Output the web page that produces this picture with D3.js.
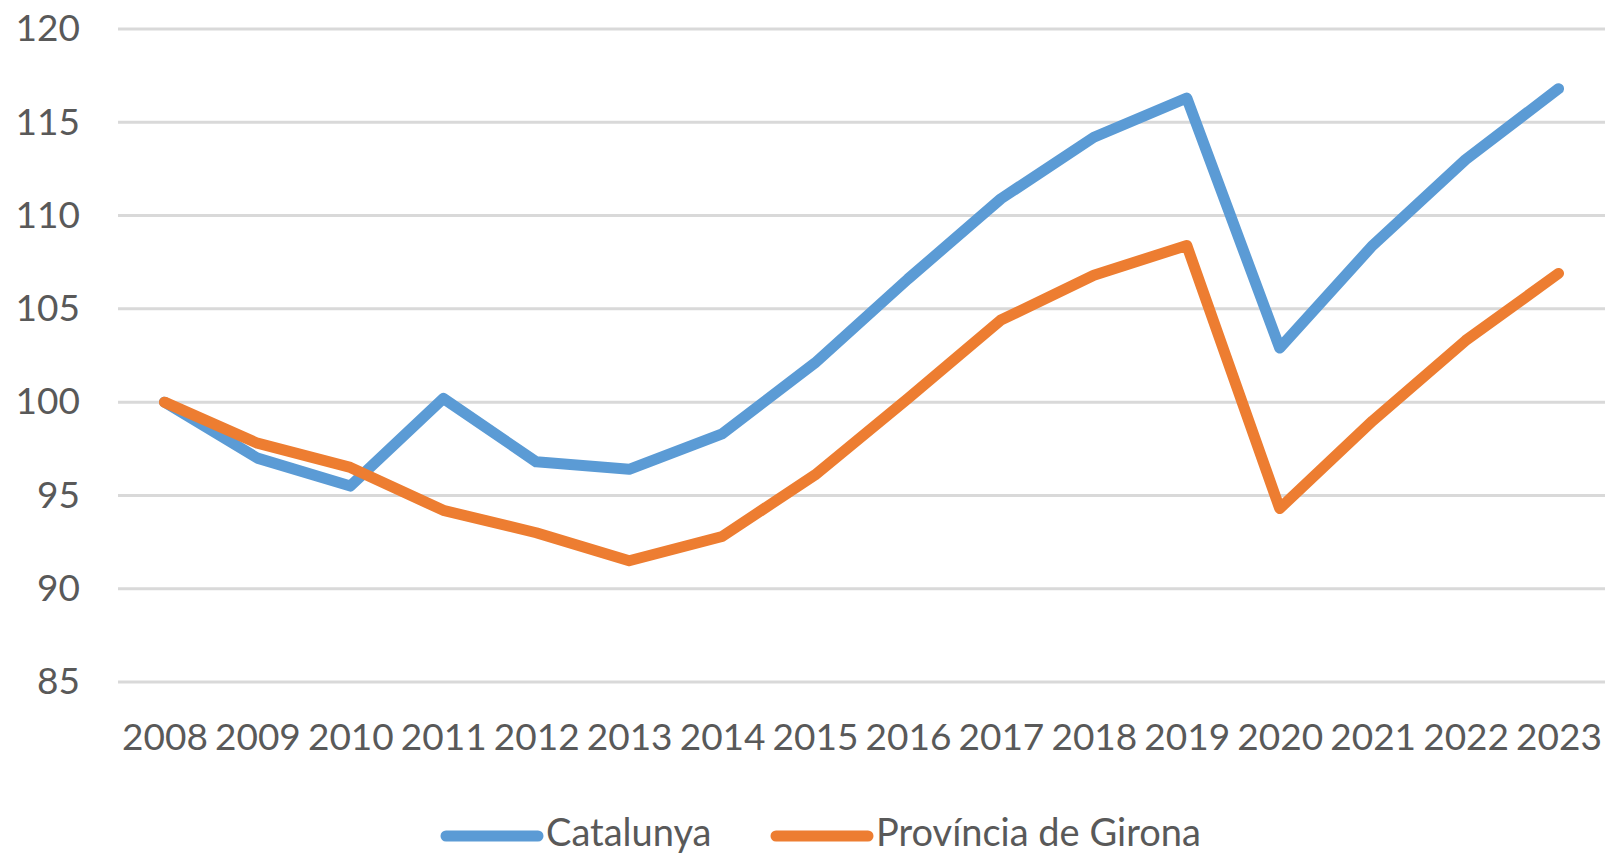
<!DOCTYPE html>
<html>
<head>
<meta charset="utf-8">
<script src="https://cdn.jsdelivr.net/npm/d3@7"></script>
<style>
  html, body { margin: 0; padding: 0; background: #fff; }
  svg { display: block; }
</style>
</head>
<body>
<script>
const width = 1608;
const height = 857;

// dades
const years = ["2008", "2009", "2010", "2011", "2012", "2013", "2014", "2015",
               "2016", "2017", "2018", "2019", "2020", "2021", "2022", "2023"];
const catalunya = [100, 97.0, 95.5, 100.2, 96.8, 96.4, 98.3, 102.1,
                   106.6, 110.9, 114.2, 116.3, 102.9, 108.4, 113.0, 116.8];
const girona = [100, 97.8, 96.5, 94.2, 93.0, 91.5, 92.8, 96.1,
                100.2, 104.4, 106.8, 108.4, 94.3, 99.0, 103.3, 106.9];
const yTicks = [85, 90, 95, 100, 105, 110, 115, 120];
const seriesNames = ["Catalunya", "Província de Girona"];
const colors = ["#5B9BD5", "#ED7D31"];

const margin = { left: 118, right: 3, top: 29, bottom: 175 };

const svg = d3.select("body")
    .append("svg")
    .attr("width", width)
    .attr("height", height);

const x = d3.scalePoint()
    .domain(years)
    .range([margin.left, width - margin.right])
    .padding(0.5);

const y = d3.scaleLinear()
    .domain([85, 120])
    .range([height - margin.bottom, margin.top]);

// línies de la graella
svg.append("g")
    .selectAll("line")
    .data(yTicks)
    .enter()
    .append("line")
    .attr("x1", margin.left)
    .attr("x2", width - margin.right)
    .attr("y1", d => y(d))
    .attr("y2", d => y(d))
    .attr("stroke", "#D9D9D9")
    .attr("stroke-width", 3);

// eix Y
const yAxis = svg.append("g")
    .attr("transform", `translate(${margin.left - 38},0)`)
    .call(d3.axisLeft(y).tickValues(yTicks).tickSize(0).tickPadding(0));
yAxis.select(".domain").remove();
yAxis.selectAll("text")
    .attr("font-family", "Lato, 'Open Sans', sans-serif")
    .attr("font-size", 37)
    .attr("fill", "#595959");

// eix X
const xAxis = svg.append("g")
    .attr("transform", `translate(0,${y(85) + 42})`)
    .call(d3.axisBottom(x).tickSize(0).tickPadding(0));
xAxis.select(".domain").remove();
xAxis.selectAll("text")
    .attr("font-family", "Lato, 'Open Sans', sans-serif")
    .attr("font-size", 37)
    .attr("fill", "#595959");

// sèries
const line = d3.line()
    .x((d, i) => x(years[i]))
    .y(d => y(d));

[catalunya, girona].forEach((s, k) => {
    svg.append("path")
        .datum(s)
        .attr("d", line)
        .attr("fill", "none")
        .attr("stroke", colors[k])
        .attr("stroke-width", 11)
        .attr("stroke-linejoin", "round")
        .attr("stroke-linecap", "round");
});

// llegenda
const legendX = [446, 776];
const legend = svg.append("g");
seriesNames.forEach((name, k) => {
    legend.append("line")
        .attr("x1", legendX[k])
        .attr("x2", legendX[k] + 92)
        .attr("y1", 836)
        .attr("y2", 836)
        .attr("stroke", colors[k])
        .attr("stroke-width", 11)
        .attr("stroke-linecap", "round");
    legend.append("text")
        .attr("x", legendX[k] + 100)
        .attr("y", 846)
        .attr("font-family", "Lato, 'Open Sans', sans-serif")
        .attr("font-size", 38)
        .attr("fill", "#595959")
        .text(name);
});
</script>
</body>
</html>
